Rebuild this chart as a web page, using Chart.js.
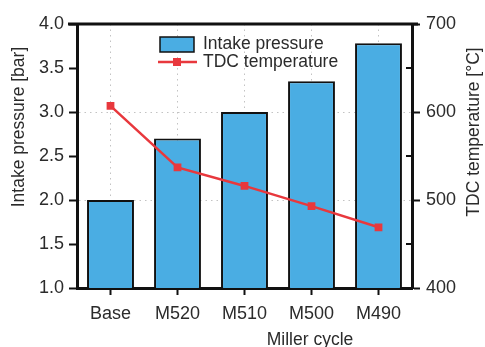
<!DOCTYPE html>
<html>
<head>
<meta charset="utf-8">
<script src="https://cdn.jsdelivr.net/npm/chart.js@4.4.0/dist/chart.umd.min.js"></script>
<style>
  html, body { margin: 0; padding: 0; background: #fff; }
  #wrap { width: 485px; height: 347px; }
</style>
</head>
<body>
<div id="wrap"><canvas id="myChart" width="485" height="347"></canvas></div>
<script>
var categories = ["Base", "M520", "M510", "M500", "M490"];
var intakePressure = [2.0, 2.7, 3.0, 3.35, 3.78];
var tdcTemperature = [607, 537, 516, 493, 469];
var pressureTicks = [1.0, 1.5, 2.0, 2.5, 3.0, 3.5, 4.0];
var tempTicks = [400, 500, 600, 700];

var FONT = "'Liberation Sans', Arial, sans-serif";
var TEXT = "#2b2b2b";
var AXIS = "#111";
var BAR = "#4aade3";
var RED = "#e8383d";
var GRID = "rgba(170,170,170,0.7)";

// legend, titles, top frame and inner minor ticks
var extras = {
    id: "extras",
    afterDraw: function(chart) {
        var ctx = chart.ctx;
        var area = chart.chartArea;
        var y1 = chart.scales.y1;
        ctx.save();

        // top frame
        ctx.strokeStyle = AXIS;
        ctx.lineWidth = 3;
        ctx.beginPath();
        ctx.moveTo(68, area.top);
        ctx.lineTo(area.right + 6, area.top);
        ctx.stroke();

        // minor ticks on the right axis, inside
        ctx.lineWidth = 2;
        [450, 550, 650].forEach(function(v) {
            var py = y1.getPixelForValue(v);
            ctx.beginPath();
            ctx.moveTo(area.right - 6, py);
            ctx.lineTo(area.right, py);
            ctx.stroke();
        });

        // legend
        ctx.fillStyle = BAR;
        ctx.fillRect(160, 37, 34, 15);
        ctx.strokeStyle = AXIS;
        ctx.lineWidth = 1.5;
        ctx.strokeRect(160, 37, 34, 15);
        ctx.strokeStyle = RED;
        ctx.lineWidth = 2.5;
        ctx.beginPath();
        ctx.moveTo(158, 62);
        ctx.lineTo(197, 62);
        ctx.stroke();
        ctx.fillStyle = RED;
        ctx.fillRect(173, 58, 8, 8);

        ctx.fillStyle = TEXT;
        ctx.font = "17.5px " + FONT;
        ctx.textAlign = "left";
        ctx.textBaseline = "middle";
        ctx.fillText("Intake pressure", 203, 44);
        ctx.fillText("TDC temperature", 203, 62);

        // axis titles
        ctx.textAlign = "center";
        ctx.fillText("Miller cycle", 310, 340);

        ctx.translate(19, 127);
        ctx.rotate(-Math.PI / 2);
        ctx.fillText("Intake pressure [bar]", 0, 0);
        ctx.restore();

        ctx.save();
        ctx.fillStyle = TEXT;
        ctx.font = "17.5px " + FONT;
        ctx.textAlign = "center";
        ctx.textBaseline = "middle";
        ctx.translate(474, 132);
        ctx.rotate(-Math.PI / 2);
        ctx.fillText("TDC temperature [\u00b0C]", 0, 0);
        ctx.restore();
    }
};

var ctx = document.getElementById("myChart").getContext("2d");
var myChart = new Chart(ctx, {
    type: "bar",
    data: {
        labels: categories,
        datasets: [
            {
                type: "line",
                label: "TDC temperature",
                data: tdcTemperature,
                yAxisID: "y1",
                borderColor: RED,
                backgroundColor: RED,
                borderWidth: 2.5,
                pointStyle: "rect",
                pointRadius: 5.5,
                pointBorderWidth: 0,
                pointBackgroundColor: RED,
                tension: 0,
                order: 0
            },
            {
                label: "Intake pressure",
                data: intakePressure,
                yAxisID: "y",
                backgroundColor: BAR,
                borderColor: AXIS,
                borderWidth: 2,
                categoryPercentage: 1,
                barPercentage: 0.7,
                order: 1
            }
        ]
    },
    options: {
        responsive: false,
        animation: false,
        layout: { padding: { top: 24, left: 0, right: 0, bottom: 0 } },
        plugins: {
            legend: { display: false },
            tooltip: { enabled: false }
        },
        scales: {
            x: {
                offset: true,
                afterFit: function(s) { s.height = 59; },
                grid: {
                    offset: false,
                    color: GRID,
                    lineWidth: 1,
                    tickColor: AXIS,
                    tickLength: 7,
                    tickWidth: 2
                },
                border: { display: true, color: AXIS, width: 3, dash: [1.5, 4] },
                ticks: {
                    color: TEXT,
                    padding: 8,
                    font: { family: FONT, size: 18 }
                }
            },
            y: {
                position: "left",
                min: 1,
                max: 4,
                afterFit: function(s) { s.width = 77; },
                afterBuildTicks: function(s) {
                    s.ticks = pressureTicks.map(function(v) { return { value: v }; });
                },
                grid: {
                    color: function(c) {
                        return (c.tick && Math.abs(c.tick.value % 1) < 1e-6) ? GRID : "rgba(0,0,0,0)";
                    },
                    lineWidth: 1,
                    tickColor: AXIS,
                    tickLength: 8,
                    tickWidth: 2
                },
                border: { display: true, color: AXIS, width: 3, dash: [1.5, 4] },
                ticks: {
                    color: TEXT,
                    padding: 5,
                    font: { family: FONT, size: 18 },
                    callback: function(v) { return Number(v).toFixed(1); }
                }
            },
            y1: {
                position: "right",
                min: 400,
                max: 700,
                afterFit: function(s) { s.width = 73; },
                afterBuildTicks: function(s) {
                    s.ticks = tempTicks.map(function(v) { return { value: v }; });
                },
                grid: {
                    drawOnChartArea: false,
                    tickColor: AXIS,
                    tickLength: 8,
                    tickWidth: 2
                },
                border: { display: true, color: AXIS, width: 3 },
                ticks: {
                    color: TEXT,
                    padding: 6,
                    font: { family: FONT, size: 18 }
                }
            }
        }
    },
    plugins: [extras]
});
</script>
</body>
</html>
